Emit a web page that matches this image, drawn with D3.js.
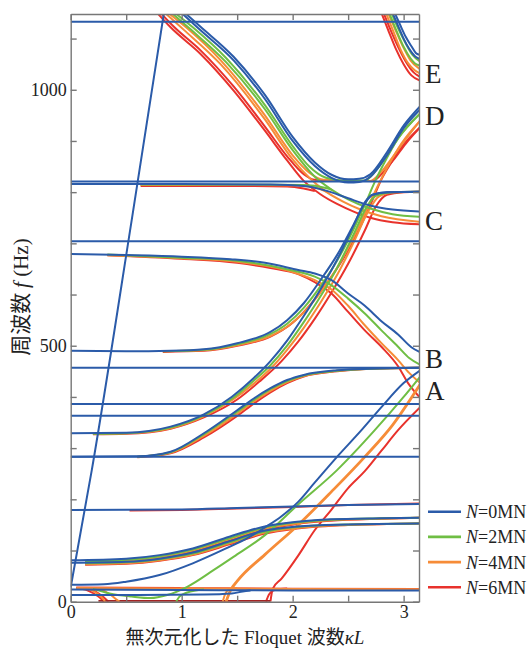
<!DOCTYPE html>
<html>
<head>
<meta charset="utf-8">
<script src="https://cdn.jsdelivr.net/npm/d3@7"></script>
<style>
body { margin: 0; background: #fff; }
svg text { font-family: "Liberation Serif", "DejaVu Serif", serif; fill: #222; }
.jp { font-family: "Noto Sans CJK JP", "Noto Sans", sans-serif; }
.axis path, .axis line { stroke: #777; stroke-width: 1.4; }
</style>
</head>
<body>
<div id="chart"></div>
<script>
// series: tension N (MN), order N=0,2,4,6
const seriesNames = ["0", "2", "4", "6"];
const seriesColors = ["#2b5ba9", "#6fbe44", "#f68c38", "#e8322c"];

const xTicks = [0, 0.5, 1, 1.5, 2, 2.5, 3];
const yTicks = [0, 100, 200, 300, 400, 500, 600, 700, 800, 900, 1000, 1100];
const bandLabels = [["E", 83], ["D", 125], ["C", 230], ["B", 368], ["A", 400]];

// flat bands, same for all N (drawn once, the curves coincide)
const flatLevels = [1133, 821, 704, 457, 386, 363, 283];

// each curve: points [kappaL, f] per series (N=0, 2, 4, 6); null = not drawn
const lightLine = [[[0, 28], [0.19, 257], [0.55, 746], [0.84, 1150]], null, null, null];

const bandE1 = [
  [[2.9, 1150], [2.95, 1125], [3.0, 1100], [3.05, 1080], [3.1, 1066], [3.15, 1060]],
  [[2.87, 1150], [2.93, 1118], [3.0, 1084], [3.06, 1062], [3.1, 1052], [3.15, 1047]],
  [[2.84, 1150], [2.9, 1118], [2.97, 1080], [3.04, 1052], [3.1, 1038], [3.15, 1032]],
  [[2.8, 1150], [2.86, 1117], [2.93, 1080], [3.0, 1050], [3.07, 1028], [3.15, 1018]]
];
const bandE2 = [
  [[2.92, 1150], [2.97, 1126], [3.02, 1103], [3.07, 1085], [3.11, 1072], [3.15, 1068]],
  [[2.89, 1150], [2.95, 1120], [3.02, 1090], [3.08, 1068], [3.15, 1055]],
  [[2.86, 1150], [2.92, 1120], [2.99, 1086], [3.06, 1058], [3.15, 1040]],
  [[2.82, 1150], [2.88, 1118], [2.95, 1084], [3.02, 1055], [3.09, 1034], [3.15, 1025]]
];

const topUpper = [
  [[1.03, 1150], [1.17, 1123], [1.47, 1064], [1.75, 990], [2.0, 908], [2.2, 858], [2.35, 834], [2.5, 825], [2.6, 826], [2.7, 835], [2.85, 878], [3.0, 930], [3.15, 968]],
  [[0.94, 1150], [1.1, 1122], [1.4, 1062], [1.75, 970], [2.0, 890], [2.15, 850], [2.3, 828], [2.45, 823], [2.65, 823], [2.75, 842], [2.85, 872], [2.95, 905], [3.15, 954]],
  [[0.88, 1150], [1.05, 1120], [1.35, 1058], [1.75, 950], [2.0, 872], [2.15, 838], [2.28, 824], [2.45, 822], [2.7, 822], [2.8, 840], [2.9, 868], [3.0, 898], [3.15, 940]],
  [[0.81, 1150], [0.93, 1123], [1.17, 1077], [1.47, 1006], [1.75, 928], [1.95, 870], [2.1, 835], [2.2, 824], [2.45, 822], [2.72, 822], [2.82, 840], [2.92, 866], [3.02, 895], [3.15, 927]]
];
const topLower = [
  [[1.0, 1150], [1.15, 1120], [1.47, 1057], [1.75, 982], [2.0, 900], [2.2, 851], [2.35, 828], [2.5, 819], [2.6, 820], [2.7, 830], [2.85, 872], [3.0, 925], [3.15, 962]],
  [[0.91, 1150], [1.08, 1118], [1.4, 1054], [1.75, 962], [2.0, 882], [2.2, 830], [2.35, 805], [2.5, 786], [2.7, 768], [2.9, 757], [3.15, 752]],
  [[0.85, 1150], [1.02, 1117], [1.35, 1050], [1.75, 942], [2.0, 864], [2.15, 828], [2.3, 801], [2.45, 782], [2.6, 767], [2.8, 753], [3.15, 742]],
  [[0.78, 1150], [0.9, 1122], [1.17, 1070], [1.47, 998], [1.75, 920], [1.95, 862], [2.1, 822], [2.25, 796], [2.4, 777], [2.55, 762], [2.7, 750], [2.9, 741], [3.15, 737]]
];
const flat815 = [
  [[0, 816], [1.0, 816], [1.8, 815], [2.1, 812], [2.3, 803], [2.5, 788], [2.7, 774], [2.9, 766], [3.15, 762]],
  [[0.63, 815], [1.5, 815], [2.1, 814], [2.3, 808], [2.36, 804]],
  [[0.63, 814], [1.5, 814], [2.05, 813], [2.22, 808], [2.3, 801]],
  [[0.63, 812], [1.5, 812], [1.95, 811], [2.1, 807], [2.2, 802]]
];
const band679 = [
  [[0, 679], [0.5, 677], [1.0, 674], [1.44, 669], [1.75, 662], [2.05, 648], [2.2, 641], [2.35, 628], [2.5, 602], [2.65, 578], [2.8, 548], [2.95, 522], [3.07, 497], [3.15, 487]],
  [[0.33, 678], [1.0, 672], [1.5, 666], [2.0, 647], [2.2, 635], [2.35, 618], [2.5, 592], [2.65, 563], [2.8, 530], [2.95, 498], [3.05, 476], [3.15, 463]],
  [[0.33, 677], [1.0, 671], [1.5, 664], [2.0, 644], [2.2, 628], [2.35, 610], [2.5, 578], [2.65, 540], [2.8, 505], [2.95, 472], [3.05, 447], [3.15, 427]],
  [[0.33, 677], [1.0, 670], [1.5, 662], [1.8, 652], [2.05, 640], [2.2, 624], [2.35, 602], [2.5, 566], [2.65, 530], [2.8, 498], [2.95, 460], [3.04, 427], [3.15, 398]]
];
const band488 = [
  [[0, 490], [0.5, 489], [0.9, 490], [1.2, 493], [1.5, 505], [1.8, 527], [1.95, 550], [2.1, 583], [2.25, 628], [2.4, 677], [2.55, 737], [2.65, 778], [2.72, 795], [2.85, 800], [3.15, 801]],
  [[0.83, 489], [1.2, 492], [1.5, 503], [1.8, 523], [1.95, 543], [2.1, 574], [2.25, 616], [2.4, 666], [2.55, 728], [2.67, 785], [2.74, 820], [2.82, 855], [2.95, 905], [3.15, 954]],
  [[0.83, 489], [1.2, 491], [1.5, 501], [1.8, 519], [1.95, 537], [2.1, 565], [2.25, 604], [2.4, 652], [2.55, 712], [2.68, 772], [2.78, 818], [2.87, 855], [2.98, 895], [3.15, 940]],
  [[0.83, 488], [1.2, 490], [1.5, 500], [1.8, 518], [2.0, 545], [2.15, 578], [2.3, 620], [2.45, 668], [2.6, 728], [2.72, 785], [2.8, 825], [2.88, 855], [3.0, 893], [3.15, 927]]
];
const band329 = [
  [[0, 329], [0.5, 330], [0.9, 342], [1.2, 366], [1.45, 400], [1.65, 437], [1.8, 470], [1.95, 510], [2.1, 558], [2.25, 610], [2.4, 668], [2.55, 735], [2.65, 780], [2.72, 795], [2.85, 800], [3.15, 801]],
  [[0.2, 328], [0.5, 329], [0.9, 340], [1.2, 364], [1.45, 396], [1.65, 432], [1.8, 462], [1.95, 500], [2.1, 546], [2.25, 596], [2.4, 652], [2.55, 718], [2.67, 772], [2.75, 793], [2.9, 800], [3.15, 801]],
  [[0.2, 328], [0.5, 329], [0.9, 339], [1.2, 362], [1.45, 393], [1.65, 426], [1.8, 455], [1.95, 492], [2.1, 535], [2.25, 584], [2.4, 638], [2.55, 702], [2.68, 762], [2.78, 792], [2.92, 800], [3.15, 801]],
  [[0.2, 327], [0.5, 328], [0.9, 338], [1.2, 360], [1.5, 395], [1.7, 430], [1.9, 470], [2.05, 508], [2.2, 553], [2.35, 604], [2.5, 660], [2.65, 725], [2.75, 772], [2.85, 795], [3.0, 800], [3.15, 801]]
];
const band283 = [
  [[0, 283], [0.6, 284], [0.9, 293], [1.2, 329], [1.5, 374], [1.65, 397], [1.8, 417], [1.95, 433], [2.1, 443], [2.4, 452], [2.7, 455], [3.15, 457]],
  [[0.6, 283], [0.9, 292], [1.2, 327], [1.5, 371], [1.65, 394], [1.8, 415], [1.95, 431], [2.1, 442], [2.4, 451], [2.7, 455], [3.15, 457]],
  [[0.6, 283], [0.9, 291], [1.2, 324], [1.5, 367], [1.65, 391], [1.8, 412], [1.95, 429], [2.1, 441], [2.4, 451], [2.7, 455], [3.15, 457]],
  [[0.6, 282], [0.9, 290], [1.2, 321], [1.5, 363], [1.65, 387], [1.8, 409], [1.95, 427], [2.1, 440], [2.4, 450], [2.7, 455], [3.15, 457]]
];
const band185 = [
  [[0, 179], [1.0, 180], [1.5, 183], [2.0, 186], [2.5, 189], [3.15, 191]],
  null,
  null,
  [[0.53, 178], [1.0, 179], [1.5, 182], [2.0, 185], [2.5, 189], [3.15, 192]]
];
const band81 = [
  [[0, 81], [0.5, 84], [0.8, 91], [1.1, 104], [1.43, 127], [1.73, 146], [2.04, 156], [2.34, 161], [2.8, 163], [3.15, 164]],
  [[0.13, 79], [0.5, 82], [0.8, 89], [1.1, 102], [1.43, 124], [1.73, 144], [2.04, 155], [2.34, 160], [2.8, 163], [3.15, 164]],
  [[0.13, 78], [0.5, 80], [0.8, 87], [1.1, 100], [1.43, 122], [1.73, 142], [2.04, 153], [2.34, 159], [2.8, 162], [3.15, 164]],
  [[0.13, 76], [0.5, 79], [0.8, 86], [1.1, 98], [1.43, 120], [1.73, 140], [2.04, 152], [2.34, 158], [2.8, 162], [3.15, 164]]
];
const band76 = [
  [[0, 76], [0.5, 78], [0.8, 84], [1.1, 96], [1.43, 118], [1.73, 138], [2.04, 147], [2.5, 151], [3.15, 153]],
  [[0.13, 75], [0.5, 77], [0.8, 83], [1.1, 94], [1.43, 116], [1.73, 136], [2.04, 146], [2.5, 151], [3.15, 153]],
  [[0.13, 73], [0.5, 75], [0.8, 81], [1.1, 92], [1.43, 114], [1.73, 134], [2.04, 144], [2.5, 150], [3.15, 153]],
  [[0.13, 72], [0.5, 74], [0.8, 80], [1.1, 91], [1.43, 112], [1.73, 132], [2.04, 143], [2.5, 150], [3.15, 153]]
];
const bandA = [
  [[0, 33], [0.3, 34], [0.5, 39], [0.8, 52], [1.1, 75], [1.4, 104], [1.6, 125], [1.75, 145], [1.9, 167], [2.05, 195], [2.2, 233], [2.4, 283], [2.62, 335], [2.8, 380], [3.0, 427], [3.15, 452]],
  [[0.2, 25], [0.35, 16], [0.55, 10], [0.72, 7], [0.87, 13], [1.05, 29], [1.29, 62], [1.47, 88], [1.75, 130], [2.05, 190], [2.4, 257], [2.74, 335], [3.0, 400], [3.15, 440]],
  [[1.4, 0], [1.44, 22], [1.5, 40], [1.75, 92], [2.05, 150], [2.35, 215], [2.65, 283], [2.9, 345], [3.15, 425]],
  [[1.8, 0], [1.82, 25], [1.9, 45], [2.05, 90], [2.2, 140], [2.35, 180], [2.5, 222], [2.65, 255], [2.8, 295], [2.95, 335], [3.15, 380]]
];
const band24 = [
  [[0, 24], [1.0, 23], [2.0, 22], [3.15, 22]],
  null,
  [[0.05, 27], [1.0, 26], [2.0, 25], [3.15, 24.5]],
  [[0.05, 27.5], [1.0, 26.5], [2.0, 25.5], [3.15, 25]]
];
const band13 = [
  [[0, 13], [0.6, 13], [1.2, 14], [1.45, 16], [1.55, 20], [1.62, 22]],
  null, null, null
];
const floorLine = [null, null, null, [[0.25, 1.2], [1.0, 1.2], [1.8, 1.2]]];
const dipA = [null, [[0.95, 0], [0.98, 10], [1.05, 18], [1.2, 24]],
  [[0.15, 26], [0.24, 16], [0.29, 6], [0.31, 0]],
  [[0.05, 27], [0.15, 22], [0.25, 10], [0.3, 0]]];
const dipB = [null, null,
  [[0.25, 26], [0.35, 15], [0.42, 3], [0.44, 0]],
  [[0.12, 27], [0.22, 20], [0.3, 8], [0.34, 0]]];
const dipC = [null, null,
  [[1.37, 0], [1.39, 14], [1.43, 24], [1.5, 27]],
  [[1.76, 0], [1.79, 15], [1.85, 24], [1.95, 26]]];

const margin = { top: 14, right: 111, bottom: 48.3, left: 70.7 };
const W = 530, H = 650;
const width = W - margin.left - margin.right;
const height = H - margin.top - margin.bottom;

const svg = d3.select("#chart").append("svg")
  .attr("width", W).attr("height", H);
const g = svg.append("g")
  .attr("transform", `translate(${margin.left},${margin.top})`);

const x = d3.scaleLinear().domain([0, 3.1385]).range([0, width]);
const y = d3.scaleLinear().domain([0, 1148]).range([height, 0]);

g.append("clipPath").attr("id", "plot-clip")
  .append("rect").attr("width", width).attr("height", height);

const line = d3.line()
  .x(d => x(d[0]))
  .y(d => y(d[1]))
  .curve(d3.curveMonotoneX);

const curves = [lightLine, bandE1, bandE2, topUpper, topLower, flat815, band679, band488,
  band329, band283, band185, band81, band76, bandA, band24, band13, dipA, dipB, dipC];
flatLevels.forEach(l => {
  curves.push([[[0, l], [3.15, l]], null, null, null]);
});

const plot = g.append("g").attr("clip-path", "url(#plot-clip)");

// red first, blue last (on top)
[3, 2, 1, 0].forEach(s => {
  curves.forEach(c => {
    if (!c[s]) return;
    plot.append("path")
      .datum(c[s])
      .attr("fill", "none")
      .attr("stroke", seriesColors[s])
      .attr("stroke-width", (c === bandA && s === 2) ? 2.8 : 2)
      .attr("d", line);
  });
  if (s === 3) {
    plot.append("path")
      .datum(floorLine[3])
      .attr("fill", "none")
      .attr("stroke", "#a32222")
      .attr("stroke-width", 2)
      .attr("d", line);
  }
});

// axes with inward ticks
const xAxis = d3.axisBottom(x).tickValues(xTicks).tickSize(-6).tickSizeOuter(0).tickPadding(3.5)
  .tickFormat(d => Number.isInteger(d) ? d : "");
const yAxis = d3.axisLeft(y).tickValues(yTicks).tickSize(-6).tickSizeOuter(0).tickPadding(4)
  .tickFormat(d => d % 500 === 0 ? d : "");

g.append("g").attr("class", "axis")
  .attr("transform", `translate(0,${height})`).call(xAxis)
  .selectAll("text").style("font-size", "18px");
g.append("g").attr("class", "axis")
  .call(yAxis)
  .selectAll("text").style("font-size", "18px");
g.append("g").attr("class", "axis")
  .call(d3.axisTop(x).tickValues(xTicks).tickSize(-6).tickSizeOuter(0).tickFormat(""));
g.append("g").attr("class", "axis")
  .attr("transform", `translate(${width},0)`)
  .call(d3.axisRight(y).tickValues(yTicks).tickSize(-6).tickSizeOuter(0).tickFormat(""));
g.selectAll(".axis text").attr("font-family", null);

// band letters
bandLabels.forEach(([t, by]) => {
  svg.append("text")
    .attr("x", 425).attr("y", by)
    .style("font-size", "27px")
    .text(t);
});

// axis titles
const yTitle = svg.append("text")
  .attr("transform", "translate(28,297) rotate(-90)")
  .attr("text-anchor", "middle")
  .style("font-size", "21px");
yTitle.append("tspan").attr("class", "jp").text("周波数 ");
yTitle.append("tspan").style("font-style", "italic").text("f");
yTitle.append("tspan").text(" (Hz)");

const xTitle = svg.append("text")
  .attr("x", 245).attr("y", 644)
  .attr("text-anchor", "middle")
  .style("font-size", "19px");
xTitle.append("tspan").attr("class", "jp").text("無次元化した ");
xTitle.append("tspan").text("Floquet ");
xTitle.append("tspan").attr("class", "jp").text("波数");
xTitle.append("tspan").style("font-style", "italic").text("κL");

// legend
const legend = svg.append("g");
seriesNames.forEach((n, i) => {
  const ly = 511.7 + i * 25.2;
  legend.append("line")
    .attr("x1", 428).attr("x2", 461)
    .attr("y1", ly).attr("y2", ly)
    .attr("stroke", seriesColors[i]).attr("stroke-width", 2.6);
  const t = legend.append("text")
    .attr("x", 466).attr("y", ly + 6.5)
    .style("font-size", "18px");
  t.append("tspan").style("font-style", "italic").text("N");
  t.append("tspan").text("=" + n + "MN");
});
</script>
</body>
</html>
